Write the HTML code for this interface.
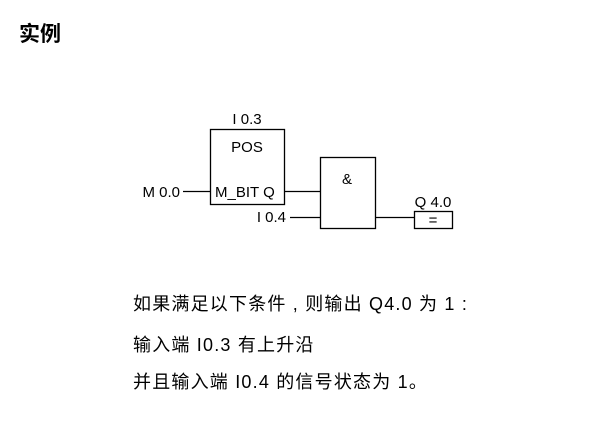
<!DOCTYPE html>
<html><head><meta charset="utf-8"><style>
body{margin:0;width:606px;height:425px;background:#fff;position:relative;overflow:hidden;font-family:"Liberation Sans","Noto Sans CJK SC",sans-serif;color:#000}
.t{position:absolute;white-space:nowrap;line-height:1}
.b{font-size:18px;letter-spacing:1.2px}
</style></head><body>
<div class="t" style="left:19px;top:24px;font-size:21px;font-weight:bold">实例</div>
<svg width="606" height="425" style="position:absolute;left:0;top:0" font-family="Liberation Sans, sans-serif" font-size="15">
<g fill="none" stroke="#000" stroke-width="1.3">
<rect x="210.5" y="129.5" width="74" height="75"/>
<rect x="320.5" y="157.5" width="55" height="71"/>
<rect x="414.5" y="211.5" width="38" height="17"/>
<line x1="183" y1="191.5" x2="210" y2="191.5"/>
<line x1="284" y1="191.5" x2="320" y2="191.5"/>
<line x1="290" y1="217.5" x2="320" y2="217.5"/>
<line x1="375" y1="217.5" x2="414" y2="217.5"/>
</g>
<text x="247" y="124" text-anchor="middle">I 0.3</text>
<text x="247" y="152" text-anchor="middle">POS</text>
<text x="215" y="197">M_BIT Q</text>
<text x="180" y="197" text-anchor="end">M 0.0</text>
<text x="286" y="222" text-anchor="end">I 0.4</text>
<text x="347" y="184" text-anchor="middle">&amp;</text>
<text x="433" y="207" text-anchor="middle">Q 4.0</text>
<text x="433" y="225" text-anchor="middle">=</text>
</svg>
<div class="t b" style="left:133px;top:295px">如果满足以下条件 , 则输出 Q4.0 为 1 :</div>
<div class="t b" style="left:133px;top:336px">输入端 I0.3 有上升沿</div>
<div class="t b" style="left:133px;top:373px">并且输入端 I0.4 的信号状态为 1。</div>
</body></html>
